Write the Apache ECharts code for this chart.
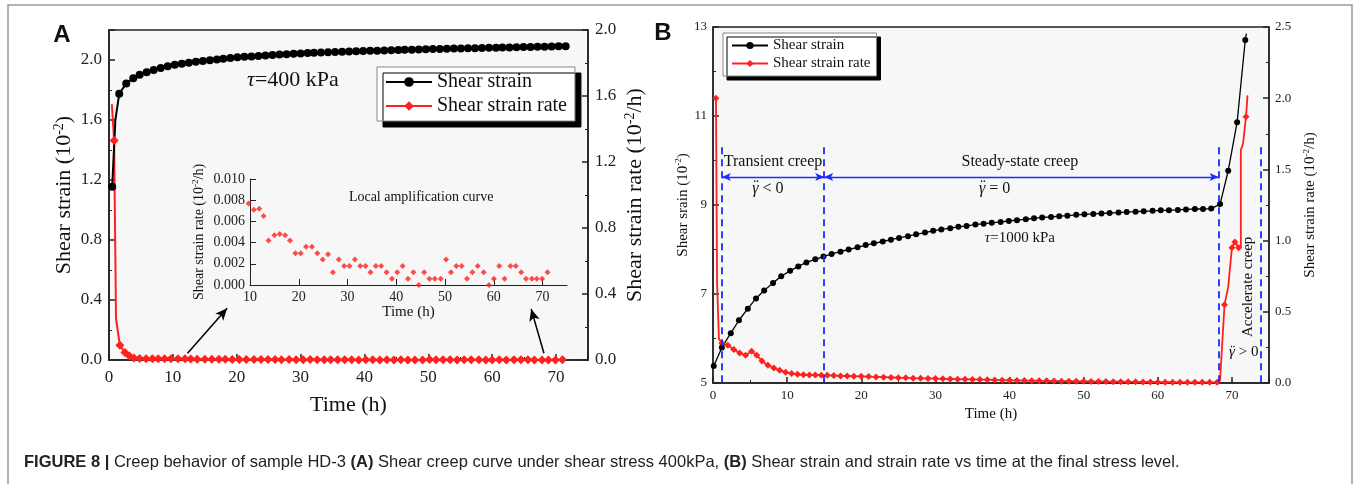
<!DOCTYPE html>
<html>
<head>
<meta charset="utf-8">
<script src="https://cdn.jsdelivr.net/npm/echarts@6/dist/echarts.min.js"></script>
<style>
  html, body { margin: 0; padding: 0; background: #fff; }
  #chart { width: 1356px; height: 484px; }
</style>
</head>
<body>
<div id="chart"></div>
<script>
// ---------- panel A : tau = 400 kPa ----------
const strainTimeA = [0.5,1.0,1.6,2.7,3.8,4.8,5.9,7.0,8.1,9.2,
  10.3,11.4,12.5,13.6,14.7,15.8,16.9,17.9,19.0,20.1,
  21.2,22.3,23.4,24.5,25.6,26.7,27.8,28.9,30.0,31.1,
  32.1,33.2,34.3,35.4,36.5,37.6,38.7,39.8,40.9,42.0,
  43.1,44.2,45.3,46.3,47.4,48.5,49.6,50.7,51.8,52.9,
  54.0,55.1,56.2,57.3,58.4,59.5,60.6,61.6,62.7,63.8,
  64.9,66.0,67.1,68.2,69.3,70.4,71.5];
const strainA = [1.155,1.60,1.775,1.844,1.878,1.902,1.918,1.933,1.947,1.958,
  1.968,1.975,1.982,1.988,1.993,1.998,2.003,2.008,2.013,2.018,
  2.021,2.024,2.027,2.030,2.033,2.036,2.039,2.041,2.044,2.046,
  2.048,2.050,2.052,2.053,2.055,2.057,2.058,2.060,2.061,2.062,
  2.064,2.065,2.066,2.068,2.069,2.070,2.072,2.073,2.074,2.075,
  2.076,2.077,2.078,2.079,2.080,2.081,2.082,2.083,2.084,2.085,
  2.086,2.087,2.088,2.089,2.090,2.091,2.092];
const strainBareA = [1]; // points that only shape the line (no marker)

const rateTimeA = [0.45,0.8,1.1,1.7,2.5,3.2,3.9,4.8,5.8,6.8,7.7,8.7];
const rateA = [1.55,1.33,0.25,0.09,0.045,0.025,0.012,0.009,0.008,0.008,0.008,0.008];
const rateBareA = [0,2];

// inset: local amplification of the strain rate
const insetTime = [9.7,10.8,11.9,12.8,13.8,15.0,16.1,17.2,18.2,19.3,
  20.4,21.5,22.7,23.8,24.9,26.0,27.0,28.2,29.3,30.4,
  31.5,32.6,33.7,34.7,35.8,36.9,38.0,39.1,40.2,41.3,
  42.4,43.5,44.6,45.7,46.8,47.9,49.1,50.2,51.2,52.3,
  53.4,54.5,55.6,56.7,57.9,59.0,60.0,61.1,62.2,63.4,
  64.5,65.6,66.6,67.8,68.8,69.9,71.0];
const insetRate = [0.0077,0.0071,0.0072,0.0065,0.0042,0.0047,0.0048,0.0047,0.0042,0.0030,
  0.0030,0.0036,0.0036,0.0030,0.0024,0.0029,0.0012,0.0024,0.0018,0.0018,
  0.0024,0.0018,0.0018,0.0012,0.0018,0.0018,0.0012,0.0006,0.0012,0.0018,
  0.0006,0.0012,0.0000,0.0012,0.0006,0.0006,0.0006,0.0024,0.0012,0.0018,
  0.0018,0.0006,0.0012,0.0018,0.0012,0.0000,0.0006,0.0018,0.0006,0.0018,
  0.0018,0.0012,0.0006,0.0006,0.0006,0.0006,0.0012];

// ---------- panel B : tau = 1000 kPa ----------
const strainTimeB = [0.1,1.2,2.4,3.5,4.7,5.8,6.9,8.1,9.2,10.4,
  11.5,12.6,13.8,14.9,16.0,17.2,18.3,19.5,20.6,21.7,
  22.9,24.0,25.1,26.3,27.4,28.6,29.7,30.8,32.0,33.1,
  34.2,35.4,36.5,37.6,38.8,39.9,41.0,42.2,43.3,44.4,
  45.6,46.7,47.8,49.0,50.1,51.3,52.4,53.5,54.7,55.8,
  57.0,58.1,59.3,60.4,61.5,62.7,63.8,65.0,66.1,67.2,
  68.4,69.5,70.7,71.8,71.95];
const strainB = [5.38,5.80,6.12,6.41,6.67,6.90,7.08,7.25,7.40,7.52,
  7.62,7.71,7.78,7.84,7.90,7.95,8.00,8.05,8.10,8.14,
  8.18,8.22,8.26,8.30,8.34,8.38,8.42,8.45,8.48,8.51,
  8.53,8.56,8.58,8.60,8.62,8.64,8.66,8.68,8.70,8.72,
  8.73,8.75,8.76,8.78,8.79,8.80,8.81,8.82,8.83,8.84,
  8.85,8.86,8.87,8.88,8.88,8.89,8.90,8.91,8.91,8.92,
  9.02,9.77,10.86,12.71,12.85];
const strainBareB = [64];

const rateTimeB = [0.4,0.55,0.8,1.2,2.0,2.8,3.6,4.4,5.2,5.9,
  6.6,7.4,8.2,9.0,9.8,10.6,11.4,12.2,13.0,13.8,
  14.6,15.4,16.3,17.2,18.1,19.0,20,21,22,23,
  24,25,26,27,28,29,30,31,32,33,
  34,35,36,37,38,39,40,41,42,43,
  44,45,46,47,48,49,50,51,52,53,
  54,55,56,57,58,59,60,61,62,63,
  64,65,66,67,68,
  68.4,69.0,69.5,70.0,70.4,70.9,71.2,71.2,71.5,71.9,72.1];
const rateB = [2.00,0.70,0.31,0.28,0.265,0.235,0.21,0.195,0.223,0.195,
  0.155,0.125,0.105,0.09,0.075,0.066,0.061,0.058,0.057,0.056,
  0.055,0.054,0.052,0.050,0.049,0.048,0.047,0.045,0.043,0.041,
  0.039,0.037,0.036,0.034,0.033,0.032,0.031,0.029,0.028,0.027,
  0.026,0.025,0.024,0.023,0.021,0.020,0.019,0.018,0.017,0.016,
  0.015,0.015,0.014,0.013,0.013,0.012,0.012,0.011,0.010,0.010,
  0.009,0.009,0.008,0.008,0.007,0.007,0.006,0.006,0.006,0.005,
  0.005,0.005,0.005,0.005,0.005,
  0.02,0.55,0.675,0.95,0.99,0.95,0.955,1.636,1.68,1.87,2.02];
const rateBareB = [1,2,75,77,81,82,83,85];

// creep stage boundaries (h) and annotation levels on the strain axis
const stageTimesB = [1.2, 15.0, 68.2, 73.9];
const stageTopB = 10.3;
const stageArrowB = 9.63;

const serif = '"Liberation Serif", "Times New Roman", serif';
const sans = '"Liberation Sans", Arial, sans-serif';
const red = '#ff2020';
const blue = '#1a2bff';

function pts(xs, ys, bare) {
  return xs.map((x, i) => bare && bare.indexOf(i) >= 0
    ? { value: [x, ys[i]], symbol: 'none' }
    : [x, ys[i]]);
}

function supName(main, tail) {
  return '{a|' + main + '}{s|-2}{a|' + tail + '}';
}
function nameRich(size) {
  return {
    a: { fontFamily: serif, fontSize: size, color: '#111', lineHeight: size + 2 },
    s: { fontFamily: serif, fontSize: Math.round(size * 0.62), color: '#111', verticalAlign: 'top', lineHeight: size + 2 }
  };
}

function valAxis(o) {
  return Object.assign({
    type: 'value',
    axisLine: { show: true, onZero: false, lineStyle: { color: '#222', width: o.lw || 1.5 } },
    axisTick: { show: true, inside: true, length: 6, lineStyle: { color: '#222', width: o.lw || 1.5 } },
    minorTick: { show: o.minor !== false, splitNumber: 2, length: 3, lineStyle: { color: '#222' } },
    splitLine: { show: false },
    axisLabel: {
      fontFamily: serif, fontSize: o.fs, color: '#222', margin: o.margin || 7,
      showMaxLabel: o.showMax !== false,
      formatter: o.fmt
    },
    nameLocation: 'middle',
    nameTextStyle: { rich: nameRich(o.nfs), fontFamily: serif, fontSize: o.nfs, color: '#111' }
  }, o.extra);
}

const chart = echarts.init(document.getElementById('chart'), null, { renderer: 'canvas' });

const option = {
  animation: false,
  backgroundColor: '#fff',
  grid: [
    { left: 109, right: 768, top: 30, bottom: 124, show: true, backgroundColor: '#f7f7f7', borderColor: '#222', borderWidth: 1.6 },
    { left: 250, right: 789, top: 179, bottom: 199 },
    { left: 713, right: 87, top: 27, bottom: 101, show: true, backgroundColor: '#f7f7f7', borderColor: '#222', borderWidth: 1.4 }
  ],
  xAxis: [
    valAxis({ fs: 17, nfs: 22, margin: 9, showMax: false, extra: {
      gridIndex: 0, min: 0, max: 75, interval: 10, name: 'Time (h)', nameGap: 34 } }),
    valAxis({ fs: 14, nfs: 15, lw: 1, minor: false, margin: 5, showMax: false, extra: {
      gridIndex: 1, min: 10, max: 75, interval: 10, name: 'Time (h)', nameGap: 20 } }),
    valAxis({ fs: 13, nfs: 15, margin: 6, showMax: false, extra: {
      gridIndex: 2, min: 0, max: 75, interval: 10, name: 'Time (h)', nameGap: 19 } })
  ],
  yAxis: [
    valAxis({ fs: 17, nfs: 22, showMax: false, fmt: v => v.toFixed(1), extra: {
      gridIndex: 0, min: 0, max: 2.2, interval: 0.4, name: supName('Shear strain (10', ')'), nameGap: 33 } }),
    valAxis({ fs: 17, nfs: 22, fmt: v => v.toFixed(1), extra: {
      gridIndex: 0, position: 'right', min: 0, max: 2.0, interval: 0.4, name: supName('Shear strain rate (10', '/h)'), nameGap: 35 } }),
    valAxis({ fs: 14, nfs: 14, lw: 1, minor: false, margin: 5, fmt: v => v.toFixed(3), extra: {
      gridIndex: 1, min: 0, max: 0.01, interval: 0.002, name: supName('Shear strain rate (10', '/h)'), nameGap: 43 } }),
    valAxis({ fs: 13, nfs: 15, margin: 6, extra: {
      gridIndex: 2, min: 5, max: 13, interval: 2, name: supName('Shear srain (10', ')'), nameGap: 18 } }),
    valAxis({ fs: 13, nfs: 15, margin: 6, fmt: v => v.toFixed(1), extra: {
      gridIndex: 2, position: 'right', min: 0, max: 2.5, interval: 0.5, name: supName('Shear strain rate (10', '/h)'), nameGap: 33 } })
  ],
  legend: [
    {
      left: 377, top: 67, orient: 'vertical', selectedMode: false,
      data: ['Shear strain', 'Shear strain rate'],
      itemWidth: 46, itemHeight: 12, itemGap: 4, padding: [5, 8, 5, 8],
      backgroundColor: '#fff', borderColor: '#888', borderWidth: 1,
      shadowColor: '#000', shadowBlur: 0, shadowOffsetX: 6, shadowOffsetY: 6,
      textStyle: { fontFamily: serif, fontSize: 20, color: '#111' }
    },
    {
      left: 723, top: 33, orient: 'vertical', selectedMode: false,
      data: ['Shear strain', 'Shear strain rate'],
      itemWidth: 36, itemHeight: 9, itemGap: 3, padding: [5, 6, 5, 8],
      backgroundColor: '#fff', borderColor: '#888', borderWidth: 1,
      shadowColor: '#000', shadowBlur: 0, shadowOffsetX: 4, shadowOffsetY: 4,
      textStyle: { fontFamily: serif, fontSize: 15, color: '#111' }
    }
  ],
  series: [
    {
      name: 'Shear strain rate', type: 'line', xAxisIndex: 0, yAxisIndex: 1,
      data: pts(rateTimeA.concat(insetTime), rateA.concat(insetRate), rateBareA),
      symbol: 'diamond', symbolSize: 9, color: red,
      lineStyle: { color: red, width: 2 }, itemStyle: { color: red }
    },
    {
      name: 'Shear strain', type: 'line', xAxisIndex: 0, yAxisIndex: 0,
      data: pts(strainTimeA, strainA, strainBareA),
      symbol: 'circle', symbolSize: 8, color: '#000',
      lineStyle: { color: '#000', width: 2 }, itemStyle: { color: '#000' },
      markLine: {
        silent: true, animation: false, label: { show: false },
        symbol: ['none', 'arrow'], symbolSize: [8, 12],
        lineStyle: { color: '#000', type: 'solid', width: 1.5 },
        data: [
          [{ coord: [12.3, 0.045] }, { coord: [18.5, 0.345] }],
          [{ coord: [68.1, 0.045] }, { coord: [66.1, 0.34] }]
        ]
      }
    },
    {
      name: 'inset', type: 'scatter', xAxisIndex: 1, yAxisIndex: 2, clip: false,
      data: pts(insetTime, insetRate),
      symbol: 'diamond', symbolSize: 6, itemStyle: { color: red }
    },
    {
      name: 'Shear strain rate', type: 'line', xAxisIndex: 2, yAxisIndex: 4,
      data: pts(rateTimeB, rateB, rateBareB),
      symbol: 'diamond', symbolSize: 7, color: red,
      lineStyle: { color: red, width: 1.8 }, itemStyle: { color: red }
    },
    {
      name: 'Shear strain', type: 'line', xAxisIndex: 2, yAxisIndex: 3,
      data: pts(strainTimeB, strainB, strainBareB),
      symbol: 'circle', symbolSize: 6, color: '#000',
      lineStyle: { color: '#000', width: 1.3 }, itemStyle: { color: '#000' },
      markLine: {
        silent: true, animation: false, label: { show: false }, symbol: 'none',
        lineStyle: { color: blue, type: [7, 5], width: 1.8 },
        data: stageTimesB.map(t => [{ coord: [t, stageTopB] }, { coord: [t, 5] }]).concat([
          [{ coord: [stageTimesB[0], stageArrowB], symbol: 'arrow', symbolSize: [6, 9], lineStyle: { type: 'solid', width: 1.4 } },
           { coord: [stageTimesB[1], stageArrowB], symbol: 'arrow', symbolSize: [6, 9] }],
          [{ coord: [stageTimesB[1], stageArrowB], symbol: 'arrow', symbolSize: [6, 9], lineStyle: { type: 'solid', width: 1.4 } },
           { coord: [stageTimesB[2], stageArrowB], symbol: 'arrow', symbolSize: [6, 9] }]
        ])
      }
    }
  ]
};
chart.setOption(option);

// annotations placed in data coordinates
const pA = (t, v) => chart.convertToPixel({ seriesIndex: 1 }, [t, v]);
const pIn = (t, v) => chart.convertToPixel({ seriesIndex: 2 }, [t, v]);
const pB = (t, v) => chart.convertToPixel({ seriesIndex: 4 }, [t, v]);

function txt(p, text, size, extra) {
  return Object.assign({
    type: 'text', x: p[0], y: p[1], silent: true,
    style: Object.assign({
      text: text, fill: '#111', font: size + 'px ' + serif,
      align: 'center', verticalAlign: 'middle', textAlign: 'center', textVerticalAlign: 'middle',
      rich: {
        i: { fontStyle: 'italic', fontFamily: serif, fontSize: size, fill: '#111' },
        n: { fontFamily: serif, fontSize: size, fill: '#111' }
      }
    }, extra && extra.style)
  }, extra && extra.el);
}

// second derivative of strain: italic gamma with a diaeresis above it
const measure = document.createElement('canvas').getContext('2d');
function gammaDD(p, rest, size) {
  measure.font = 'italic ' + size + 'px ' + serif;
  const wg = measure.measureText('γ').width;
  measure.font = size + 'px ' + serif;
  const wr = measure.measureText(rest).width;
  const x0 = p[0] - (wg + wr) / 2;
  const base = { type: 'text', y: p[1], silent: true };
  return [
    Object.assign({ x: x0 }, base, { style: { text: 'γ', font: 'italic ' + size + 'px ' + serif, fill: '#111', align: 'left', verticalAlign: 'middle' } }),
    Object.assign({ x: x0 + wg * 0.62 }, base, { y: p[1] - size * 0.08, style: { text: '\u00a8', font: size + 'px ' + serif, fill: '#111', align: 'center', verticalAlign: 'middle' } }),
    Object.assign({ x: x0 + wg }, base, { style: { text: rest, font: size + 'px ' + serif, fill: '#111', align: 'left', verticalAlign: 'middle' } })
  ];
}

const elements = [
  { type: 'rect', silent: true, shape: { x: 8, y: 5, width: 1344, height: 500 },
    style: { fill: 'none', stroke: '#999', lineWidth: 1.5 } },
  { type: 'text', x: 62, y: 35, silent: true,
    style: { text: 'A', font: 'bold 24px ' + sans, fill: '#111', align: 'center', verticalAlign: 'middle' } },
  { type: 'text', x: 663, y: 33, silent: true,
    style: { text: 'B', font: 'bold 24px ' + sans, fill: '#111', align: 'center', verticalAlign: 'middle' } },
  { type: 'text', x: 24, y: 462, silent: true,
    style: {
      text: '{b|FIGURE 8 |} Creep behavior of sample HD-3 {b|(A)} Shear creep curve under shear stress 400kPa, {b|(B)} Shear strain and strain rate vs time at the final stress level.',
      font: '16.5px ' + sans, fill: '#222', align: 'left', verticalAlign: 'middle',
      rich: { b: { fontWeight: 'bold', fontFamily: sans, fontSize: 16.5, fill: '#222' } }
    } },
  txt(pA(28.8, 1.867), '{i|τ}{n|=400 kPa}', 22),
  txt(pIn(45.1, 0.0083), 'Local amplification curve', 14),
  txt(pB(8.1, 9.96), 'Transient creep', 16),
  txt(pB(41.4, 9.96), 'Steady-state creep', 16),
  txt(pB(41.4, 8.25), '{i|τ}{n|=1000 kPa}', 15),
  txt(pB(72.2, 7.16), 'Accelerate creep', 15, { el: { rotation: Math.PI / 2 } })
].concat(
  gammaDD(pB(7.4, 9.37), ' < 0', 16),
  gammaDD(pB(38.0, 9.37), ' = 0', 16),
  gammaDD(pB(71.6, 5.70), ' > 0', 15)
);
chart.setOption({ graphic: { elements: elements } });
</script>
</body>
</html>
